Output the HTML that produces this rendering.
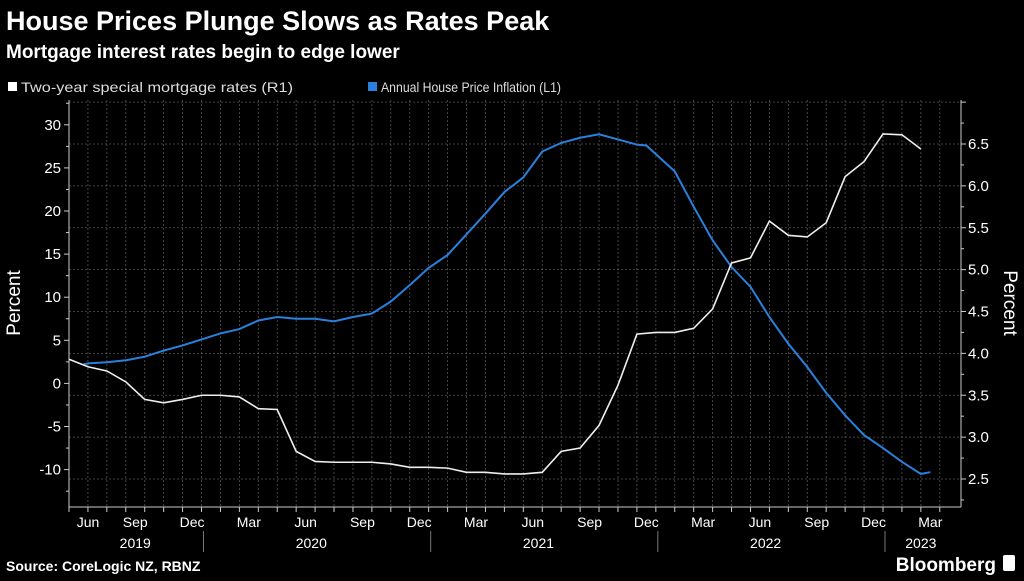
<!DOCTYPE html>
<html><head><meta charset="utf-8"><style>
body{margin:0;background:#000;width:1024px;height:576px;overflow:hidden;font-family:"Liberation Sans",sans-serif;color:#fff}
svg text{font-family:"Liberation Sans",sans-serif}
</style></head><body>
<svg id="chart" width="1024" height="576" viewBox="0 0 1024 576">
<text x="6" y="30" font-size="27" font-weight="bold" fill="#fff">House Prices Plunge Slows as Rates Peak</text>
<text x="6" y="58" font-size="19" font-weight="bold" fill="#fff">Mortgage interest rates begin to edge lower</text>
<g>
<rect x="8" y="82" width="9" height="9" fill="#fff"/>
<text x="21" y="92" font-size="14" fill="#ddd" textLength="272" lengthAdjust="spacingAndGlyphs">Two-year special mortgage rates (R1)</text>
<rect x="368" y="82" width="9" height="9" fill="#2a80dd"/>
<text x="381" y="92" font-size="14" fill="#ddd" textLength="180" lengthAdjust="spacingAndGlyphs">Annual House Price Inflation (L1)</text>
</g>
<g id="grid"></g>
<g id="axes"></g>
<g id="series"></g>
<text transform="translate(20,303) rotate(-90)" text-anchor="middle" font-size="19" fill="#fff">Percent</text>
<text transform="translate(1004,303) rotate(90)" text-anchor="middle" font-size="19" fill="#fff">Percent</text>
<text x="6" y="571" font-size="14" font-weight="bold" fill="#fff">Source: CoreLogic NZ, RBNZ</text>
<text x="996" y="571" text-anchor="end" font-size="19" font-weight="bold" fill="#fff">Bloomberg</text>
<rect x="1003" y="555" width="12" height="16" rx="2" fill="#fff"/>
</svg>
<script>
const monthLabels=["Jun","Sep","Dec","Mar","Jun","Sep","Dec","Mar","Jun","Sep","Dec","Mar","Jun","Sep","Dec","Mar"];
const monthLabelIdx=[0,3,6,9,12,15,18,21,24,27,30,33,36,39,42,45];
const yearLabels=["2019","2020","2021","2022","2023"];
const yearCenters=[3.5,12.8,24.8,36.8,45];
const yearSeps=[7,19,31,43];
const leftTicks=[-10,-5,0,5,10,15,20,25,30];
const rightTicks=[2.5,3.0,3.5,4.0,4.5,5.0,5.5,6.0,6.5];
const mortgageMonths=[0,1,2,3,4,5,6,7,8,9,10,11,12,13,14,15,16,17,18,19,20,21,22,23,24,25,26,27,28,29,30,31,32,33,34,35,36,37,38,39,40,41,42,43,44,45];
const mortgageRates=[3.93,3.84,3.79,3.66,3.45,3.41,3.45,3.50,3.50,3.48,3.34,3.33,2.83,2.71,2.70,2.70,2.70,2.68,2.64,2.64,2.63,2.58,2.58,2.56,2.56,2.58,2.83,2.87,3.14,3.62,4.23,4.25,4.25,4.30,4.53,5.08,5.14,5.58,5.41,5.39,5.56,6.11,6.29,6.62,6.61,6.44];
const houseMonths=[0.75,1,2,3,4,5,6,7,8,9,10,11,12,13,14,15,16,17,18,19,20,21,22,23,24,25,26,27,28,29,30,30.5,31,32,33,34,35,36,37,38,39,40,41,42,43,44,45,45.5];
const houseInflation=[2.2,2.33,2.45,2.68,3.1,3.8,4.4,5.1,5.8,6.3,7.3,7.7,7.5,7.5,7.2,7.7,8.1,9.5,11.4,13.4,14.9,17.3,19.7,22.2,23.9,26.9,27.9,28.5,28.9,28.3,27.7,27.6,26.6,24.6,20.5,16.6,13.5,11.2,7.7,4.6,1.9,-1.1,-3.7,-6.0,-7.5,-9.1,-10.5,-10.3];

const NS="http://www.w3.org/2000/svg";
const X0=69,DX=18.93,PT=100,PB=507,PR=961;
const xs=k=>X0+DX*k;
const yL=v=>383.4-v*8.62;
const yR=v=>479-(v-2.5)*83.75;
function mk(tag,attrs,parent){const e=document.createElementNS(NS,tag);for(const k in attrs)e.setAttribute(k,attrs[k]);parent.appendChild(e);return e;}
const grid=document.getElementById('grid'),axes=document.getElementById('axes'),series=document.getElementById('series');
for(let k=1;k<=46;k++){const l=mk('line',{x1:xs(k),x2:xs(k),y1:PT,y2:PB,stroke:'#555','stroke-width':0.8,'stroke-dasharray':'2,2'},grid);

}
for(let v=2.5;v<=7.0;v+=0.5){const l=mk('line',{x1:X0,x2:PR,y1:yR(v),y2:yR(v),stroke:'#555','stroke-width':0.8,'stroke-dasharray':'2,2'},grid);

}
mk('line',{x1:X0,x2:X0,y1:PT,y2:PB,stroke:'#ccc'},axes);
mk('line',{x1:PR,x2:PR,y1:PT,y2:PB,stroke:'#ccc'},axes);
mk('line',{x1:X0,x2:PR,y1:PB,y2:PB,stroke:'#ccc'},axes);
for(let v=-12.5;v<=32.5;v+=2.5){mk('line',{x1:X0-(v%5===0?5:3),x2:X0,y1:yL(v),y2:yL(v),stroke:'#ccc'},axes);}
leftTicks.forEach(v=>{const t=mk('text',{x:X0-8,y:yL(v)+5,'text-anchor':'end','font-size':15,fill:'#fff'},axes);t.textContent=v;

});
for(let v=2.25;v<=7.0;v+=0.25){mk('line',{x1:PR,x2:PR+(Math.abs(v*2-Math.round(v*2))<0.01?5:3),y1:yR(v),y2:yR(v),stroke:'#ccc'},axes);}
rightTicks.forEach(v=>{const t=mk('text',{x:PR+7,y:yR(v)+5,'font-size':15,fill:'#fff'},axes);t.textContent=v.toFixed(1);

});
for(let k=0;k<=46;k++){mk('line',{x1:xs(k),x2:xs(k),y1:PB,y2:PB+5,stroke:'#ccc'},axes);}
monthLabels.forEach((m,i)=>{const k=monthLabelIdx[i];const t=mk('text',{x:i===0?88:xs(k+0.5),y:527,'text-anchor':'middle','font-size':14,fill:'#fff'},axes);t.textContent=m;

});
yearLabels.forEach((y,i)=>{const t=mk('text',{x:xs(yearCenters[i]),y:548,'text-anchor':'middle','font-size':14,fill:'#fff'},axes);t.textContent=y;

});
yearSeps.forEach(k=>{mk('line',{x1:xs(k)+2,x2:xs(k)+2,y1:531,y2:552,stroke:'#777'},axes);});
const hp=mk('polyline',{points:houseMonths.map((m,i)=>xs(m)+','+yL(houseInflation[i])).join(' '),fill:'none',stroke:'#2a80dd','stroke-width':2},series);


const mr=mk('polyline',{points:mortgageMonths.map((m,i)=>xs(m)+','+yR(mortgageRates[i])).join(' '),fill:'none',stroke:'#eee','stroke-width':1.6},series);


</script>
</body></html>
